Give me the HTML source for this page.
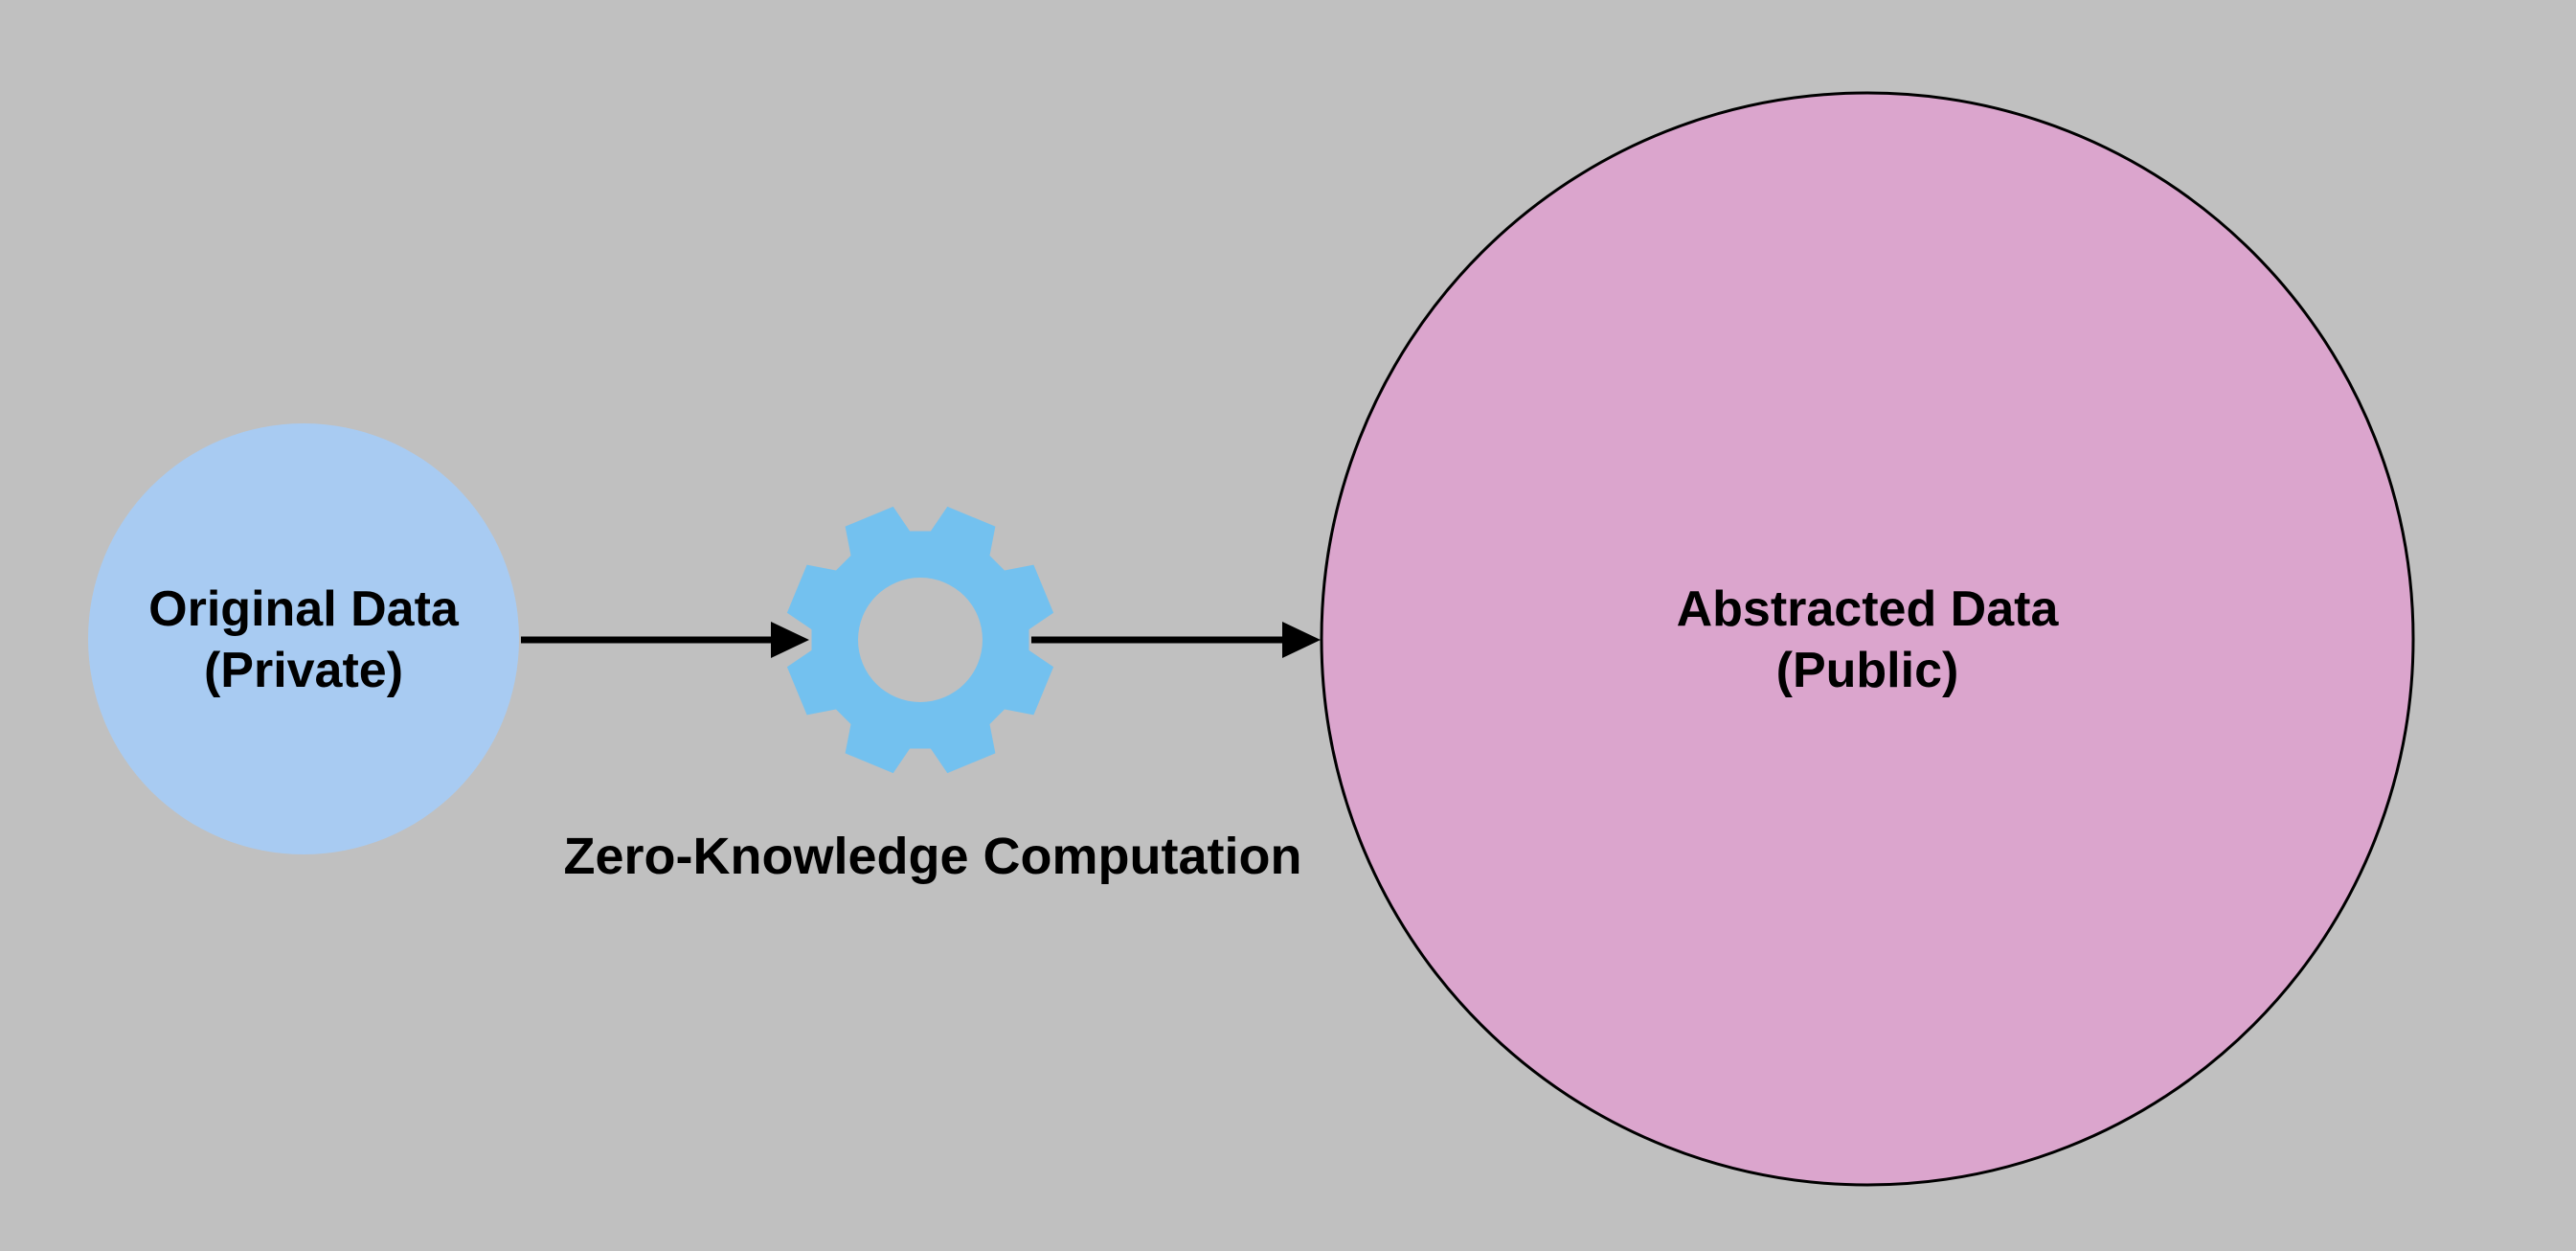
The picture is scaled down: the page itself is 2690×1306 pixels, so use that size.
<!DOCTYPE html>
<html><head><meta charset="utf-8"><style>
html,body{margin:0;padding:0;background:#c0c0c0;}
svg{display:block}
text{font-family:"Liberation Sans",sans-serif;font-weight:bold;fill:#000;}
</style></head><body>
<svg width="2690" height="1306" viewBox="0 0 2690 1306" xmlns="http://www.w3.org/2000/svg">
<rect width="2690" height="1306" fill="#c0c0c0"/>
<circle cx="317" cy="667" r="225" fill="#a8cbf2"/>
<circle cx="1950" cy="667" r="570" fill="#dba5cd" stroke="#000" stroke-width="3"/>
<g id="gear"></g>
<line x1="544" y1="668" x2="810" y2="668" stroke="#000" stroke-width="7"/>
<polygon points="805,649 845,668 805,687" fill="#000"/>
<line x1="1077" y1="668" x2="1345" y2="668" stroke="#000" stroke-width="7"/>
<polygon points="1339,649 1379,668 1339,687" fill="#000"/>
<text x="317" y="653" font-size="52" text-anchor="middle">Original Data</text>
<text x="317" y="717" font-size="52" text-anchor="middle">(Private)</text>
<text x="1950" y="653" font-size="52" text-anchor="middle">Abstracted Data</text>
<text x="1950" y="717" font-size="52" text-anchor="middle">(Public)</text>
<text x="974" y="912" font-size="54" text-anchor="middle">Zero-Knowledge Computation</text>
</svg>
<script>
(function(){
var cx=961,cy=668,ro=142,rb=114,pts=[];
for(var k=0;k<8;k++){
 var a=(22.5+45*k)*Math.PI/180,d=Math.PI/180;
 [[-17,rb],[-11,ro],[11,ro],[17,rb]].forEach(function(p){
  var t=a+p[0]*d;pts.push((cx+p[1]*Math.cos(t)).toFixed(1)+','+(cy+p[1]*Math.sin(t)).toFixed(1));
 });
}
var ns='http://www.w3.org/2000/svg';
var path=document.createElementNS(ns,'path');
var hole='M'+(cx+65)+','+cy+' a65,65 0 1,0 -130,0 a65,65 0 1,0 130,0 Z';
path.setAttribute('d','M'+pts.join(' L')+' Z '+hole);
path.setAttribute('fill','#73c1ef');path.setAttribute('fill-rule','evenodd');
document.getElementById('gear').appendChild(path);
})();
</script>
</body></html>
